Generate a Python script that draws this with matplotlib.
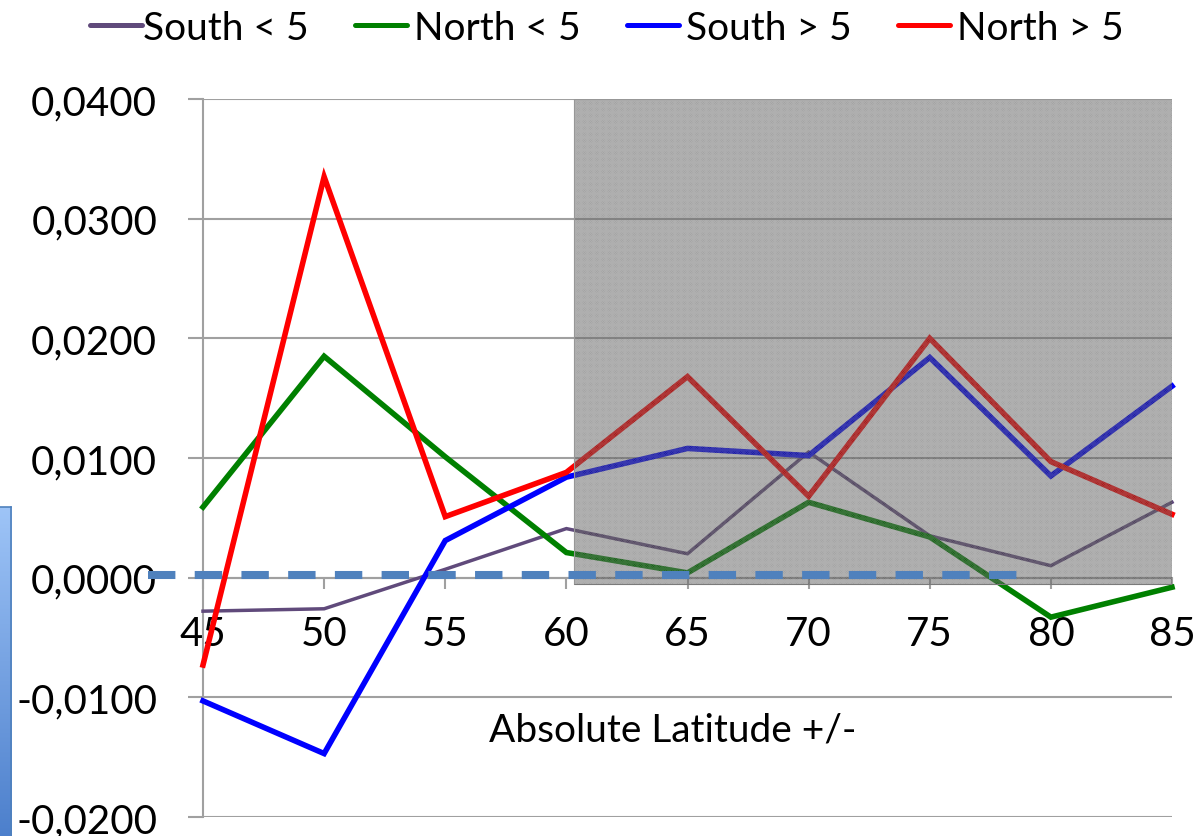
import matplotlib
matplotlib.use("Agg")
import matplotlib.pyplot as plt
import numpy as np
from matplotlib.patches import Rectangle
from matplotlib.lines import Line2D
from matplotlib.ticker import FuncFormatter

plt.rcParams['font.family'] = ['Lato', 'DejaVu Sans']

# ---- data ----
latitudes = [45, 50, 55, 60, 65, 70, 75, 80, 85]
series_names = ["South < 5", "North < 5", "South > 5", "North > 5"]
south_lt5 = [-0.0028, -0.0026, 0.0007, 0.0041, 0.0020, 0.0105, 0.0035, 0.0010, 0.0063]
north_lt5 = [0.0059, 0.0185, 0.0101, 0.0021, 0.0004, 0.0063, 0.0034, -0.0033, -0.0008]
south_gt5 = [-0.0103, -0.0147, 0.0031, 0.0084, 0.0108, 0.0102, 0.0184, 0.0085, 0.0160]
north_gt5 = [-0.0073, 0.0335, 0.0051, 0.0088, 0.0168, 0.0068, 0.0200, 0.0097, 0.0053]
series_colors = ['#604A7B', '#008000', '#0000FF', '#FF0000']
series_widths = [2.5, 4.0, 4.0, 4.0]
y_ticks = [-0.02, -0.01, 0.0, 0.01, 0.02, 0.03, 0.04]
shade_x = [60.3, 85]
shade_y = [-0.0005, 0.04]
ref_line_x = [42.73, 79.06]
ref_line_y = 0.00025
x_label = "Absolute Latitude +/-"

W, H = 1204, 837
fig = plt.figure(figsize=(W / 100, H / 100), dpi=100)
ax = fig.add_axes([203 / W, 1 - 818 / H, (1172 - 203) / W, (818 - 100) / H])
ax.set_xlim(latitudes[0], latitudes[-1])
ax.set_ylim(y_ticks[0], y_ticks[-1])

grid_c = '#a0a0a0'
ax.set_axisbelow(True)
ax.yaxis.grid(True, color=grid_c, lw=1.5)
ax.xaxis.grid(False)
for s in ['top', 'right']:
    ax.spines[s].set_visible(False)
ax.spines['left'].set_color(grid_c)
ax.spines['left'].set_linewidth(1.5)
ax.spines['bottom'].set_position(('data', 0))
ax.spines['bottom'].set_color(grid_c)
ax.spines['bottom'].set_linewidth(1.5)

ax.set_xticks(latitudes)
ax.set_xticklabels([str(v) for v in latitudes])
ax.set_yticks(y_ticks)
ax.yaxis.set_major_formatter(FuncFormatter(lambda v, p: f"{v:.4f}".replace('.', ',')))
ax.tick_params(axis='y', direction='out', length=11, width=1.5, color=grid_c,
               pad=22, labelsize=29, labelcolor='black')
ax.tick_params(axis='x', direction='out', length=8, width=1.5, color=grid_c,
               pad=19, labelsize=29, labelcolor='black')

all_series = [south_lt5, north_lt5, south_gt5, north_gt5]
for vals, c, lw, name in zip(all_series, series_colors, series_widths, series_names):
    ax.plot(latitudes, vals, color=c, lw=lw, label=name, zorder=3,
            solid_joinstyle='miter', clip_on=False)

# shaded region (semi-transparent, above the lines)
ax.add_patch(Rectangle((shade_x[0], shade_y[0]), shade_x[1] - shade_x[0], shade_y[1] - shade_y[0],
                       facecolor=(0, 0, 0, 0.40), edgecolor='#7a7a7a', lw=0.8, zorder=4))
plt.rcParams['hatch.linewidth'] = 0.7
ax.add_patch(Rectangle((shade_x[0], shade_y[0]), shade_x[1] - shade_x[0], shade_y[1] - shade_y[0],
                       facecolor='none', edgecolor=(1, 1, 1, 0.22), lw=0, hatch='x' * 14, zorder=4.1))

# dashed reference line
ax.plot(ref_line_x, [ref_line_y, ref_line_y], color='#4F81BD', lw=5.8, dashes=(3.4, 2.4),
        dash_capstyle='butt', clip_on=False, zorder=5)

# axis title inside plot
fig.text(673 / W, 1 - 731 / H, x_label, fontsize=28, ha='center', va='center')

# legend (placed entry by entry)
handle_x = [90, 355, 627, 898]
text_x = [143, 414, 686, 957]
for hx, tx, c, name in zip(handle_x, text_x, series_colors, series_names):
    fig.add_artist(Line2D([hx / W, (hx + 52) / W], [1 - 26 / H, 1 - 26 / H],
                          transform=fig.transFigure, color=c, lw=3.6, solid_capstyle='round'))
    fig.text(tx / W, 1 - 40 / H, name, fontsize=28, ha='left', va='baseline')

# left blue gradient box (partially visible)
bx = fig.add_axes([0, 0, 11 / W, (837 - 508) / H])
grad = np.linspace(0, 1, 256).reshape(-1, 1)
top = np.array([0.62, 0.77, 0.97])
bot = np.array([0.30, 0.50, 0.80])
img = top[None, None, :] * (1 - grad[:, :, None]) + bot[None, None, :] * grad[:, :, None]
bx.imshow(img, aspect='auto', extent=[0, 1, 0, 1], origin='upper')
bx.set_xlim(0, 1); bx.set_ylim(0, 1)
bx.set_xticks([]); bx.set_yticks([])
for s in bx.spines.values():
    s.set_color('#4F81BD'); s.set_linewidth(1.2)
bx.spines['left'].set_visible(False)
bx.spines['bottom'].set_visible(False)

fig.savefig('out.png', dpi=100)
